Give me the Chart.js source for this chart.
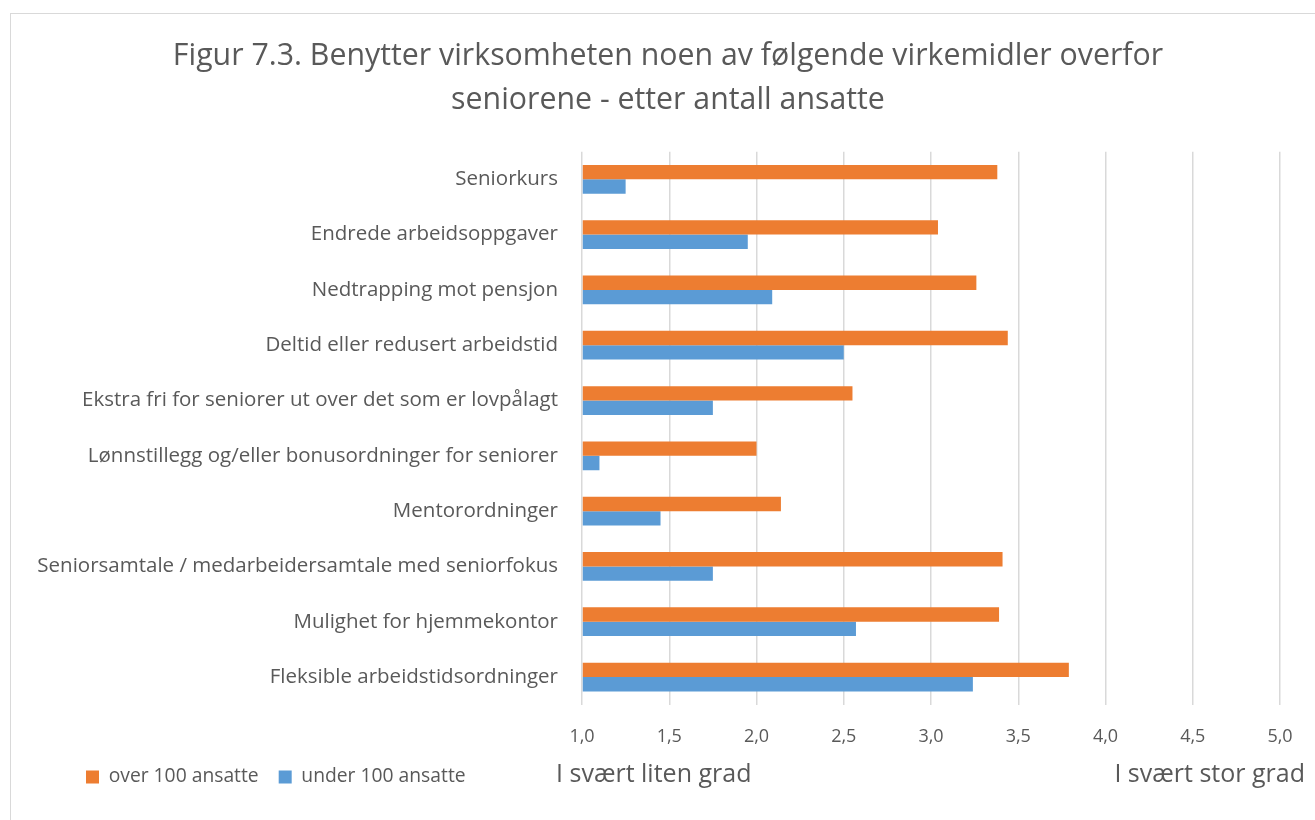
<!DOCTYPE html>
<html>
<head>
<meta charset="utf-8">
<script src="https://cdn.jsdelivr.net/npm/chart.js@4.4.0/dist/chart.umd.min.js"></script>
<style>
  html, body { margin: 0; padding: 0; background: #fff; overflow: hidden; }
  .frame { position: absolute; left: 10px; top: 13px; width: 1400px; height: 900px;
           border-left: 1px solid #d9d9d9; border-top: 1px solid #d9d9d9; }
  .wrap { position: absolute; left: 0; top: 0; width: 1315px; height: 820px; }
</style>
</head>
<body>
<div class="frame"></div>
<div class="wrap"><canvas id="chart"></canvas></div>
<script>
var categories = [
    'Seniorkurs',
    'Endrede arbeidsoppgaver',
    'Nedtrapping mot pensjon',
    'Deltid eller redusert arbeidstid',
    'Ekstra fri for seniorer ut over det som er lovpålagt',
    'Lønnstillegg og/eller bonusordninger for seniorer',
    'Mentorordninger',
    'Seniorsamtale / medarbeidersamtale med seniorfokus',
    'Mulighet for hjemmekontor',
    'Fleksible arbeidstidsordninger'
];
var over100 = [3.38, 3.04, 3.26, 3.44, 2.55, 2.00, 2.14, 3.41, 3.39, 3.79];
var under100 = [1.25, 1.95, 2.09, 2.50, 1.75, 1.10, 1.45, 1.75, 2.57, 3.24];
var titleLines = ['Figur 7.3. Benytter virksomheten noen av følgende virkemidler overfor', 'seniorene - etter antall ansatte'];
var lowLabel = 'I svært liten grad';
var highLabel = 'I svært stor grad';

var textColor = '#595959';
var fontName = '"Open Sans", sans-serif';

// legend/title placement + end labels under the axis
var extras = {
    id: 'extras',
    afterLayout: function (chart) {
        let lg = chart.legend;
        lg.left = 66;
        lg.top = 772 - lg.height / 2;
        lg.bottom = lg.top + lg.height;
        let t = chart.titleBlock;
        t.left += 18;
        t.right += 18;
    },
    afterDraw: function (chart) {
        let ctx = chart.ctx;
        ctx.save();
        ctx.fillStyle = textColor;
        ctx.font = '25px ' + fontName;
        ctx.textBaseline = 'middle';
        ctx.textAlign = 'left';
        ctx.fillText(lowLabel, 556, 775);
        ctx.textAlign = 'right';
        ctx.fillText(highLabel, 1305, 775);
        ctx.restore();
    }
};

const data = {
    labels: categories,
    datasets: [{
        label: 'over 100 ansatte',
        data: over100,
        backgroundColor: '#ED7D31',
        borderWidth: 0
    }, {
        label: 'under 100 ansatte',
        data: under100,
        backgroundColor: '#5B9BD5',
        borderWidth: 0
    }]
};

const config = {
    type: 'bar',
    data: data,
    plugins: [extras],
    options: {
        indexAxis: 'y',
        responsive: false,
        animation: false,
        categoryPercentage: 0.52,
        barPercentage: 1,
        base: 1,
        layout: { padding: { left: 20, right: 35, top: 0, bottom: 16 } },
        scales: {
            x: {
                min: 1,
                max: 5,
                ticks: {
                    stepSize: 0.5,
                    color: textColor,
                    padding: 21,
                    font: { family: fontName, size: 18 },
                    callback: v => v.toFixed(1).replace('.', ',')
                },
                grid: { color: '#d9d9d9', lineWidth: 1.5, drawTicks: false },
                border: { display: false },
                afterFit: s => { s.height = 50; }
            },
            y: {
                ticks: {
                    color: textColor,
                    padding: 24,
                    font: { family: fontName, size: 20.5 }
                },
                grid: { display: false, drawTicks: false },
                border: { display: false },
                afterFit: s => { s.width = 562; }
            }
        },
        plugins: {
            title: {
                display: true,
                text: titleLines,
                color: textColor,
                font: { family: fontName, size: 30.3, weight: 'normal', lineHeight: 1.43 },
                padding: { top: 35, bottom: 30 }
            },
            legend: {
                position: 'bottom',
                align: 'start',
                labels: {
                    boxWidth: 13,
                    boxHeight: 13,
                    padding: 20,
                    color: textColor,
                    font: { family: fontName, size: 19.3 }
                }
            },
            tooltip: { enabled: false }
        }
    }
};

let canvas = document.getElementById('chart');
canvas.width = 1315;
canvas.height = 820;
new Chart(canvas.getContext('2d'), config);
</script>
</body>
</html>
